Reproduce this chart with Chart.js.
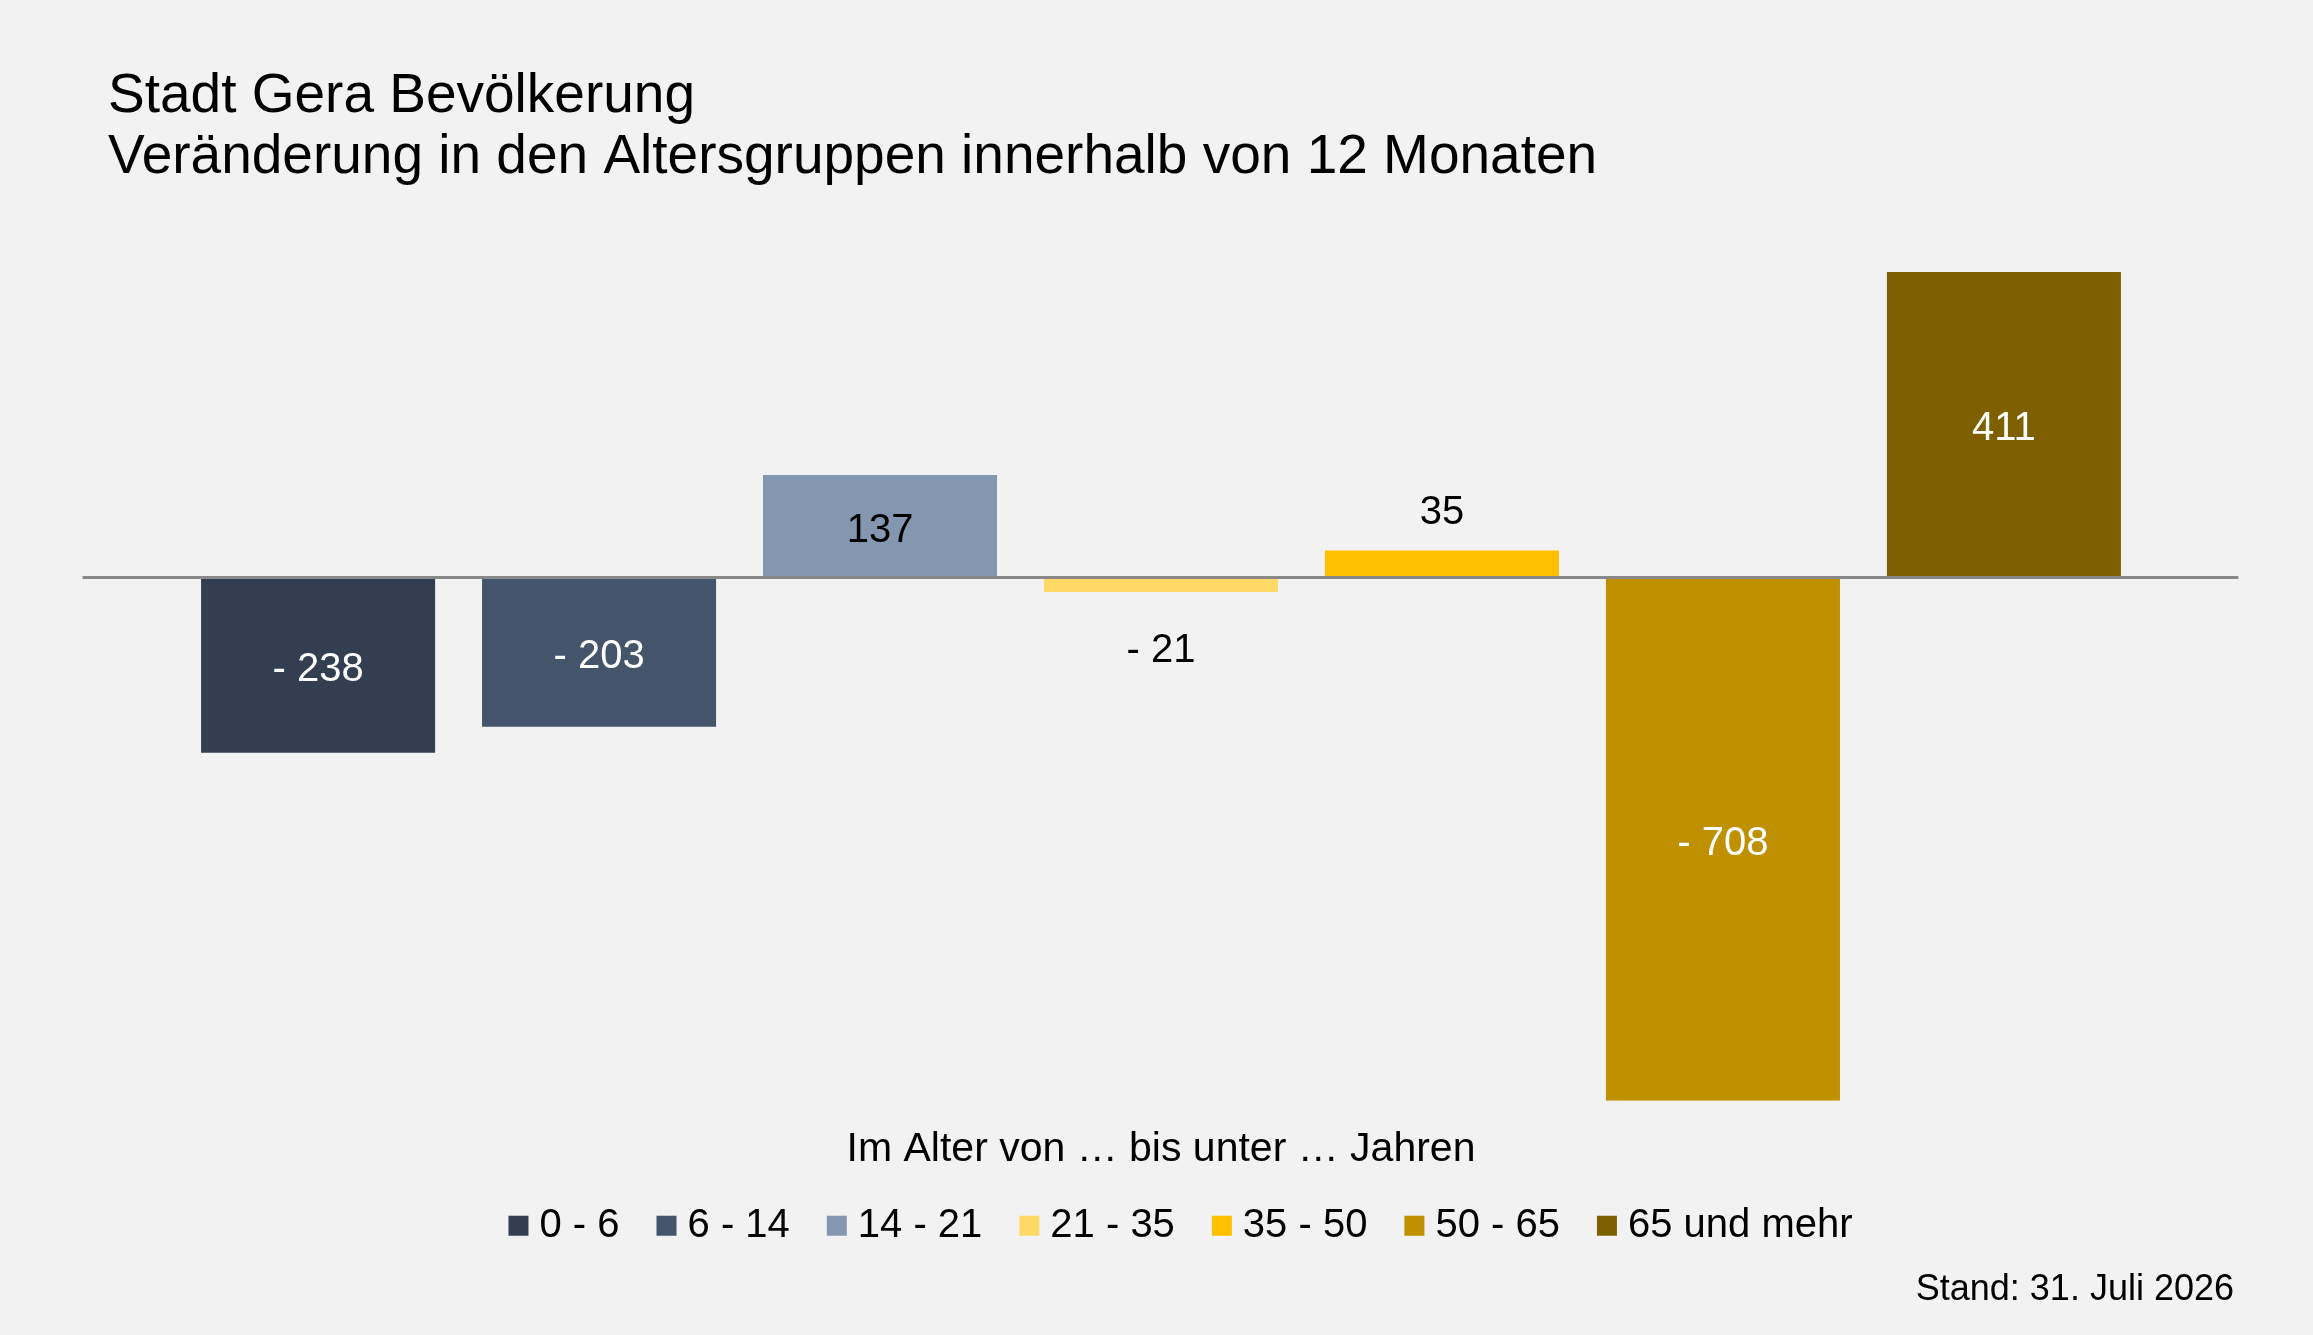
<!DOCTYPE html>
<html lang="de">
<head>
<meta charset="utf-8">
<title>Stadt Gera Bevölkerung</title>
<script src="https://cdn.jsdelivr.net/npm/chart.js@4.4.1/dist/chart.umd.min.js"></script>
<style>
  html, body { margin: 0; padding: 0; background: #f2f2f2; }
  #wrap { width: 2313px; height: 1335px; position: relative; }
</style>
</head>
<body>
<div id="wrap"><canvas id="grafico"></canvas></div>
<script>
// Daten
const altersgruppen = ["0 - 6", "6 - 14", "14 - 21", "21 - 35", "35 - 50", "50 - 65", "65 und mehr"];
const veraenderung = [-238, -203, 137, -21, 35, -708, 411];
const farben = ["#333f50", "#44546a", "#8497b0", "#ffd966", "#ffc000", "#bf9000", "#7f6000"];
const labelFarben = ["#ffffff", "#ffffff", "#000000", "#000000", "#000000", "#ffffff", "#ffffff"];
const titelZeilen = ["Stadt Gera Bevölkerung", "Veränderung in den Altersgruppen innerhalb von 12 Monaten"];
const achsenTitel = "Im Alter von … bis unter … Jahren";
const standText = "Stand: 31. Juli 2026";
const yMin = -708;
const yMax = 411;

const FONT = "'Liberation Sans', Arial, sans-serif";

// Formatierung wie im Original: "- 238"
function formatWert(v) {
  return v < 0 ? "- " + Math.abs(v) : String(v);
}

// Legende etwas nach rechts/unten schieben (wie im Original)
const legendeVerschieben = {
  id: "legendeVerschieben",
  afterLayout(chart) {
    const l = chart.legend;
    l.left += 14;
    l.right += 14;
    l.top += 3;
    l.bottom += 3;
  }
};

// Nulllinie, etwas breiter als der Kategorienbereich
const nullLinie = {
  id: "nullLinie",
  afterDatasetsDraw(chart) {
    const { ctx, chartArea, scales } = chart;
    const y = scales.y.getPixelForValue(0) + 1;
    ctx.save();
    ctx.strokeStyle = "#898989";
    ctx.lineWidth = 3;
    ctx.beginPath();
    ctx.moveTo(chartArea.left - 95, y);
    ctx.lineTo(chartArea.right + 94, y);
    ctx.stroke();
    ctx.restore();
  }
};

// Wertbeschriftungen: mittig im Balken, bei kleinen Werten außerhalb
const wertLabels = {
  id: "wertLabels",
  afterDatasetsDraw(chart) {
    const { ctx } = chart;
    const meta = chart.getDatasetMeta(0);
    ctx.save();
    ctx.font = "40px " + FONT;
    ctx.textAlign = "center";
    ctx.textBaseline = "middle";
    meta.data.forEach((bar, i) => {
      const v = veraenderung[i];
      const innen = Math.abs(bar.base - bar.y) > 60;
      let y;
      if (innen) {
        y = (bar.y + bar.base) / 2 + 5;
        ctx.fillStyle = labelFarben[i];
      } else {
        y = v < 0 ? bar.y + 59 : bar.y - 38;
        ctx.fillStyle = "#000000";
      }
      ctx.fillText(formatWert(v), bar.x, y);
    });
    ctx.restore();
  }
};

Chart.defaults.font.family = FONT;
Chart.defaults.color = "#000000";

new Chart(document.getElementById("grafico").getContext("2d"), {
  type: "bar",
  data: {
    labels: altersgruppen,
    datasets: [
      {
        data: veraenderung,
        backgroundColor: farben,
        borderWidth: 0,
        categoryPercentage: 1,
        barPercentage: 0.833
      }
    ]
  },
  options: {
    responsive: true,
    maintainAspectRatio: false,
    devicePixelRatio: 1,
    animation: false,
    layout: {
      padding: { top: 66, left: 108, right: 79, bottom: 23 }
    },
    plugins: {
      tooltip: { enabled: false },
      title: {
        display: true,
        text: titelZeilen,
        align: "start",
        color: "#000000",
        font: { size: 55, weight: "normal", lineHeight: 1.118 },
        padding: { top: 0, bottom: 83 }
      },
      subtitle: {
        display: true,
        text: standText,
        position: "bottom",
        align: "end",
        color: "#000000",
        font: { size: 36, lineHeight: 1.2 },
        padding: { top: 16, bottom: 0 }
      },
      legend: {
        position: "bottom",
        labels: {
          usePointStyle: true,
          boxWidth: 2,
          boxHeight: 20,
          padding: 46,
          color: "#000000",
          font: { size: 40 },
          generateLabels: () =>
            altersgruppen.map((name, i) => ({
              text: name,
              fillStyle: farben[i],
              strokeStyle: farben[i],
              lineWidth: 0,
              pointStyle: "rect",
              hidden: false,
              index: i
            }))
        }
      }
    },
    scales: {
      x: {
        type: "category",
        grid: { display: false },
        border: { display: false },
        ticks: { display: false },
        title: {
          display: true,
          text: achsenTitel,
          color: "#000000",
          font: { size: 41, lineHeight: 0.325 },
          padding: { top: 0, bottom: 0 }
        },
        afterFit: (s) => { s.height = 56; }
      },
      y: {
        display: false,
        min: yMin,
        max: yMax,
        afterFit: (s) => { s.width = 69.6; }
      },
      yRechts: {
        type: "linear",
        position: "right",
        display: false,
        afterFit: (s) => { s.width = 89.6; }
      }
    }
  },
  plugins: [legendeVerschieben, nullLinie, wertLabels]
});
</script>
</body>
</html>
